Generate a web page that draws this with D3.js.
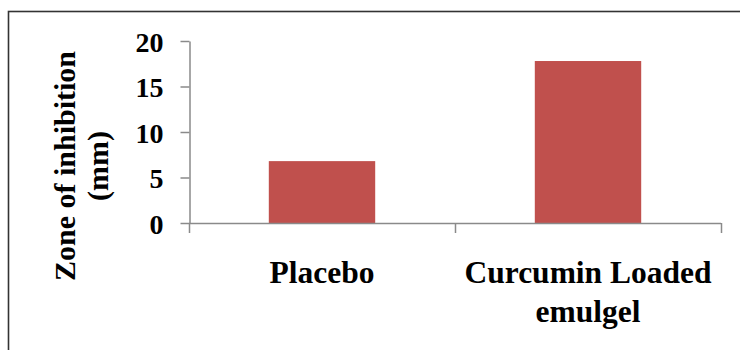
<!DOCTYPE html>
<html>
<head>
<meta charset="utf-8">
<script src="https://cdn.jsdelivr.net/npm/d3@7"></script>
<style>
  html, body { margin: 0; padding: 0; background: #fff; }
  svg { display: block; }
  text { font-family: "Liberation Serif", "Times New Roman", serif; font-weight: bold; fill: #000; }
</style>
</head>
<body>
<svg id="chart" width="740" height="350"></svg>
<script>
// Zone of inhibition by formulation
const categories = ["Placebo", "Curcumin Loaded emulgel"];
const categoryLines = [["Placebo"], ["Curcumin Loaded", "emulgel"]];
const zoneValues = [6.8, 17.8];
const yTicks = [0, 5, 10, 15, 20];
const yTitleLines = ["Zone of inhibition", "(mm)"];

const svg = d3.select("#chart");

// outer frame of the figure
svg.append("rect")
  .attr("x", 8.5).attr("y", 11.5)
  .attr("width", 760).attr("height", 360)
  .attr("fill", "none").attr("stroke", "#333").attr("stroke-width", 1.6);

const plot = { left: 189, right: 721, top: 41, bottom: 223 };

const x = d3.scaleBand()
  .domain(categories)
  .range([plot.left, plot.right])
  .paddingInner(0.6)
  .paddingOuter(0.3);

const y = d3.scaleLinear()
  .domain([0, 20])
  .range([plot.bottom, plot.top]);

const axisColor = "#8a8a8a";

// bars
svg.append("g").selectAll("rect")
  .data(zoneValues)
  .join("rect")
  .attr("x", (d, i) => x(categories[i]))
  .attr("width", x.bandwidth())
  .attr("y", d => y(d))
  .attr("height", d => y(0) - y(d))
  .attr("fill", "#C0504D");

// y axis
const yAxis = svg.append("g")
  .attr("transform", `translate(${plot.left + 0.5},0)`)
  .call(d3.axisLeft(y).tickValues(yTicks).tickSize(9).tickSizeOuter(0).tickPadding(17));
yAxis.select(".domain").attr("stroke", axisColor).attr("stroke-width", 1.5);
yAxis.selectAll(".tick line").attr("stroke", axisColor).attr("stroke-width", 1.5);
yAxis.selectAll(".tick text")
  .attr("font-size", 28)
  .attr("dy", "0.36em")
  .style("font-family", "'Liberation Serif', serif")
  .style("font-weight", "bold")
  .attr("fill", "#000");

// x axis with boundary ticks between categories
const boundaries = [plot.left, (plot.left + plot.right) / 2, plot.right];
const xg = svg.append("g");
xg.append("line")
  .attr("x1", plot.left).attr("x2", plot.right)
  .attr("y1", plot.bottom + 0.5).attr("y2", plot.bottom + 0.5)
  .attr("stroke", axisColor).attr("stroke-width", 1.5);
xg.selectAll("line.tick")
  .data(boundaries)
  .join("line")
  .attr("class", "tick")
  .attr("x1", d => d + 0.5).attr("x2", d => d + 0.5)
  .attr("y1", plot.bottom).attr("y2", plot.bottom + 10)
  .attr("stroke", axisColor).attr("stroke-width", 1.5);

// category labels
categoryLines.forEach((lines, i) => {
  const cx = x(categories[i]) + x.bandwidth() / 2;
  svg.append("text")
    .attr("x", cx)
    .attr("y", 283)
    .attr("text-anchor", "middle")
    .attr("font-size", 31.5)
    .selectAll("tspan")
    .data(lines)
    .join("tspan")
    .attr("x", cx)
    .attr("dy", (d, j) => j === 0 ? 0 : 39)
    .text(d => d);
});

// y axis title
const titleCenter = 166;
svg.append("text")
  .attr("transform", "rotate(-90)")
  .attr("text-anchor", "middle")
  .attr("font-size", 30)
  .selectAll("tspan")
  .data(yTitleLines)
  .join("tspan")
  .attr("x", -titleCenter)
  .attr("y", (d, j) => 75 + j * 33)
  .text(d => d);
</script>
</body>
</html>
